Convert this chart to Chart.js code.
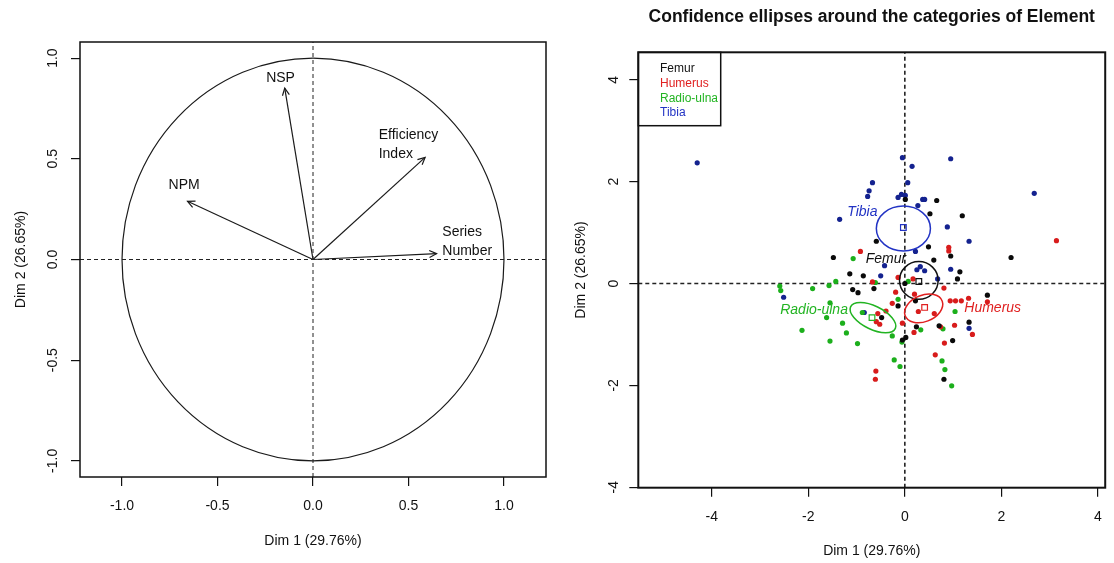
<!DOCTYPE html>
<html>
<head>
<meta charset="utf-8">
<script src="https://cdn.jsdelivr.net/npm/chart.js@4.4.1/dist/chart.umd.min.js"></script>
<style>
  body { margin: 0; background: #fff; }
  #wrap { position: relative; width: 1114px; height: 563px; }
  canvas { position: absolute; top: 0; }
  #varChart { left: 0; }
  #indChart { left: 560px; }
</style>
</head>
<body>
<div id="wrap">
  <canvas id="varChart" width="560" height="563"></canvas>
  <canvas id="indChart" width="554" height="563"></canvas>
</div>
<script>
// Variables factor map
const varNames = ['NSP', 'Efficiency\nIndex', 'NPM', 'Series\nNumber'];
const varDim1 = [-0.148, 0.587, -0.657, 0.647];
const varDim2 = [0.851, 0.507, 0.289, 0.029];
const varLabelX = [-0.17, 0.344, -0.675, 0.677];
const varLabelY = [0.902, 0.616, 0.368, 0.138];
const varTicks = [-1, -0.5, 0, 0.5, 1];
const circleRadius = 1;

// Individuals, by element
const categories = ['Femur', 'Humerus', 'Radio-ulna', 'Tibia'];
const femurX = [0.01, 0.66, 0.52, 1.19, -0.59, 0.49, 0.95, -1.48, 2.20, 0.60, -1.14, -0.86, 1.14, 1.09, -1.08, -0.97, -0.64, 0.00, 1.71, -0.48, -0.14, 0.22, 0.24, 0.02, -0.05, 0.71, 0.99, 1.33, 0.81];
const femurY = [1.65, 1.63, 1.37, 1.33, 0.83, 0.72, 0.54, 0.51, 0.51, 0.46, 0.19, 0.15, 0.23, 0.09, -0.12, -0.18, -0.10, 0.00, -0.23, -0.67, -0.44, -0.34, -0.85, -1.06, -1.11, -0.83, -1.12, -0.76, -1.88];
const humerusX = [3.14, -0.92, 0.91, 0.91, -0.67, -0.14, 0.17, 0.81, -0.19, -0.26, -0.39, -0.56, -0.59, -0.52, -0.05, 0.28, 0.61, 0.20, 0.94, 1.05, 1.17, 1.32, 1.71, 1.03, 0.74, 0.19, 0.82, 1.40, 0.63, -0.60, -0.61];
const humerusY = [0.84, 0.63, 0.71, 0.64, 0.03, 0.12, 0.09, -0.09, -0.17, -0.39, -0.54, -0.59, -0.75, -0.80, -0.78, -0.55, -0.59, -0.21, -0.34, -0.34, -0.34, -0.29, -0.36, -0.82, -0.85, -0.96, -1.17, -1.00, -1.40, -1.72, -1.88];
const radioX = [-1.07, -1.43, -1.57, -1.91, -2.59, -2.57, -0.61, 0.07, -1.55, -1.62, -1.29, -1.21, -2.13, -1.55, -0.98, -0.88, -0.26, -0.06, -0.14, -0.22, -0.10, 0.33, 0.79, 1.04, 0.77, 0.83, 0.97];
const radioY = [0.49, 0.04, -0.04, -0.10, -0.05, -0.14, 0.02, 0.04, -0.38, -0.67, -0.78, -0.97, -0.92, -1.13, -1.18, -0.57, -1.03, -1.15, -0.31, -1.50, -1.63, -0.91, -0.89, -0.55, -1.52, -1.69, -2.01];
const tibiaX = [-4.30, -0.05, 0.15, 0.95, -0.67, 0.06, -0.74, -0.77, -0.14, -0.07, 0.01, 0.37, 0.41, 0.27, -1.35, 0.88, 1.33, 2.68, 0.22, -0.42, 0.25, 0.32, 0.41, -0.50, 0.95, 0.68, -2.51, -0.84, 1.33];
const tibiaY = [2.37, 2.47, 2.30, 2.45, 1.98, 1.98, 1.82, 1.71, 1.69, 1.75, 1.73, 1.65, 1.65, 1.53, 1.26, 1.11, 0.83, 1.77, 0.63, 0.35, 0.27, 0.33, 0.25, 0.15, 0.28, 0.09, -0.27, -0.57, -0.88];

// category centres and confidence ellipses (semi axes in Dim units, angle in degrees)
const centreX = [0.29, 0.41, -0.68, -0.03];
const centreY = [0.04, -0.47, -0.67, 1.10];
const ellipseX = [0.29, 0.39, -0.66, -0.03];
const ellipseY = [0.06, -0.49, -0.67, 1.08];
const ellipseA = [0.40, 0.41, 0.51, 0.56];
const ellipseB = [0.37, 0.26, 0.23, 0.44];
const ellipseAngle = [0, 20, -24.5, 0];
const catLabelX = [-0.39, 1.82, -1.88, -0.88];
const catLabelY = [0.47, -0.49, -0.53, 1.40];
const indTicks = [-4, -2, 0, 2, 4];

const pointColors = ['#0a0a0a', '#d81c1c', '#1caf1c', '#14228f'];
const lineColors = ['#111111', '#e02020', '#22b422', '#2233c4'];

const FONT = '"Liberation Sans", Arial, Helvetica, sans-serif';
Chart.defaults.font.family = FONT;
Chart.defaults.color = '#111';

const toPts = (xs, ys) => xs.map((v, i) => ({x: v, y: ys[i]}));

const framePlugin = {
  id: 'frame',
  afterDraw(chart, args, opts) {
    const a = chart.chartArea, ctx = chart.ctx;
    ctx.save();
    ctx.strokeStyle = '#111';
    ctx.lineWidth = opts.width || 1.5;
    ctx.strokeRect(a.left, a.top, a.right - a.left, a.bottom - a.top);
    ctx.restore();
  }
};

function axisOpts(min, max, ticks, title, fmt, isY, tickPad, titlePad) {
  return {
    type: 'linear', min: min, max: max,
    afterBuildTicks: s => { s.ticks = ticks.map(v => ({value: v})); },
    grid: {drawOnChartArea: false, drawTicks: true, tickLength: 9, color: '#111', lineWidth: 1.2},
    border: {display: false},
    ticks: isY
      ? {minRotation: 90, maxRotation: 90, crossAlign: 'center', padding: tickPad, font: {size: 14}, callback: fmt}
      : {maxRotation: 0, padding: tickPad, font: {size: 14}, callback: fmt},
    title: {display: true, text: title, font: {size: 14}, padding: isY ? {top: titlePad, bottom: 0} : {top: 0, bottom: titlePad}}
  };
}

// ---- left: variables factor map ----
const varPlugin = {
  id: 'varMap',
  afterDatasetsDraw(chart) {
    const {ctx, scales: {x, y}} = chart;
    const cx = x.getPixelForValue(0), cy = y.getPixelForValue(0);
    ctx.save();
    ctx.strokeStyle = '#1a1a1a';
    ctx.lineWidth = 1.2;
    ctx.beginPath();
    ctx.ellipse(cx, cy, x.getPixelForValue(circleRadius) - cx, cy - y.getPixelForValue(circleRadius), 0, 0, Math.PI * 2);
    ctx.stroke();
    varDim1.forEach((v, i) => {
      const px = x.getPixelForValue(v), py = y.getPixelForValue(varDim2[i]);
      const ang = Math.atan2(py - cy, px - cx);
      ctx.beginPath();
      ctx.moveTo(px - 8 * Math.cos(ang - 0.45), py - 8 * Math.sin(ang - 0.45));
      ctx.lineTo(px, py);
      ctx.lineTo(px - 8 * Math.cos(ang + 0.45), py - 8 * Math.sin(ang + 0.45));
      ctx.stroke();
    });
    ctx.font = '14px ' + FONT;
    ctx.fillStyle = '#111';
    ctx.textBaseline = 'middle';
    varNames.forEach((name, i) => {
      const lines = name.split('\n');
      ctx.textAlign = lines.length > 1 ? 'left' : 'center';
      lines.forEach((ln, k) => ctx.fillText(ln, x.getPixelForValue(varLabelX[i]), y.getPixelForValue(varLabelY[i]) + k * 19));
    });
    ctx.restore();
  }
};

const varDatasets = [
  {data: [{x: -1.22, y: 0}, {x: 1.22, y: 0}], borderDash: [4, 3]},
  {data: [{x: 0, y: -1.08}, {x: 0, y: 1.08}], borderDash: [4, 3]}
].map(d => Object.assign(d, {showLine: true, pointRadius: 0, borderColor: '#222', borderWidth: 1}));
varDim1.forEach((v, i) => varDatasets.push({
  data: [{x: 0, y: 0}, {x: v, y: varDim2[i]}],
  showLine: true, pointRadius: 0, borderColor: '#1a1a1a', borderWidth: 1.2
}));

new Chart(document.getElementById('varChart'), {
  type: 'scatter',
  data: {datasets: varDatasets},
  options: {
    responsive: false, animation: false,
    layout: {padding: {top: 42, right: 14, left: 0, bottom: 0}},
    plugins: {legend: {display: false}, tooltip: {enabled: false}, frame: {width: 1.5}},
    scales: {
      x: Object.assign(axisOpts(-1.22, 1.22, varTicks, 'Dim 1 (29.76%)', v => v.toFixed(1), false, 12, 13.6), {afterFit: s => { s.height = 86; }}),
      y: Object.assign(axisOpts(-1.08, 1.08, varTicks, 'Dim 2 (26.65%)', v => v.toFixed(1), true, 5.9, 12.3), {afterFit: s => { s.width = 80; }})
    }
  },
  plugins: [varPlugin, framePlugin]
});

// ---- right: individuals with confidence ellipses ----
const indPlugin = {
  id: 'indMap',
  afterDatasetsDraw(chart) {
    const {ctx, scales: {x, y}, chartArea: a} = chart;
    const sx = x.getPixelForValue(1) - x.getPixelForValue(0);
    const sy = y.getPixelForValue(0) - y.getPixelForValue(1);
    ctx.save();
    ctx.lineWidth = 1.5;
    categories.forEach((c, i) => {
      ctx.save();
      ctx.translate(x.getPixelForValue(ellipseX[i]), y.getPixelForValue(ellipseY[i]));
      ctx.scale(sx, -sy);
      ctx.rotate(ellipseAngle[i] * Math.PI / 180);
      ctx.beginPath();
      ctx.ellipse(0, 0, ellipseA[i], ellipseB[i], 0, 0, Math.PI * 2);
      ctx.restore();
      ctx.strokeStyle = lineColors[i];
      ctx.stroke();
    });
    ctx.font = 'italic 14px ' + FONT;
    ctx.textAlign = 'center';
    ctx.textBaseline = 'middle';
    categories.forEach((c, i) => {
      ctx.fillStyle = lineColors[i];
      ctx.fillText(c, x.getPixelForValue(catLabelX[i]), y.getPixelForValue(catLabelY[i]));
    });
    // legend (text only, as in base R)
    ctx.fillStyle = '#fff';
    ctx.fillRect(a.left, a.top, 82.4, 73.4);
    ctx.strokeStyle = '#111';
    ctx.lineWidth = 1.5;
    ctx.strokeRect(a.left, a.top, 82.4, 73.4);
    ctx.font = '12px ' + FONT;
    ctx.textAlign = 'left';
    categories.forEach((c, i) => {
      ctx.fillStyle = lineColors[i];
      ctx.fillText(c, a.left + 21.7, a.top + 16.7 + i * 14.6);
    });
    ctx.restore();
  }
};

const catX = [femurX, humerusX, radioX, tibiaX];
const catY = [femurY, humerusY, radioY, tibiaY];
const indDatasets = categories.map((c, i) => ({
  label: c, data: toPts(catX[i], catY[i]), order: 2,
  pointRadius: 2.6, pointBorderWidth: 0, pointBackgroundColor: pointColors[i]
}));
indDatasets.push({
  label: 'centres', data: toPts(centreX, centreY), order: 1,
  pointStyle: 'rect', pointRadius: 4, pointBorderWidth: 1.2,
  pointBackgroundColor: 'rgba(0,0,0,0)', pointBorderColor: lineColors
});
indDatasets.push(
  {data: [{x: -5.52, y: 0}, {x: 4.15, y: 0}]},
  {data: [{x: 0, y: -4.01}, {x: 0, y: 4.54}]}
);
indDatasets.slice(-2).forEach(d => Object.assign(d, {
  showLine: true, pointRadius: 0, borderColor: '#222', borderWidth: 1.6, borderDash: [4, 3], order: 5
}));

new Chart(document.getElementById('indChart'), {
  type: 'scatter',
  data: {datasets: indDatasets},
  options: {
    responsive: false, animation: false,
    layout: {padding: {top: 0, right: 8.7, left: 0, bottom: 0}},
    plugins: {
      legend: {display: false}, tooltip: {enabled: false}, frame: {width: 2},
      title: {
        display: true, fullSize: false,
        text: 'Confidence ellipses around the categories of Element',
        font: {size: 17.5, weight: 'bold'}, color: '#111',
        padding: {top: 6.5, bottom: 24.8}
      }
    },
    scales: {
      x: Object.assign(axisOpts(-5.52, 4.15, indTicks, 'Dim 1 (29.76%)', v => v, false, 12, 3.6), {afterFit: s => { s.height = 75.3; }}),
      y: Object.assign(axisOpts(-4.01, 4.54, indTicks, 'Dim 2 (26.65%)', v => v, true, 9.1, 12.3), {afterFit: s => { s.width = 78.3; }})
    }
  },
  plugins: [indPlugin, framePlugin]
});
</script>
</body>
</html>
